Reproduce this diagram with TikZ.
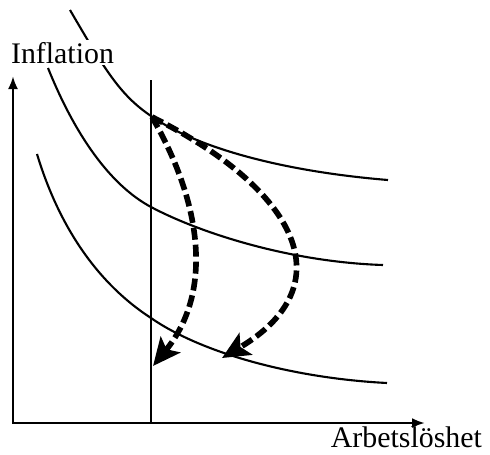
\documentclass[tikz,border=0pt]{standalone}
\usepackage{fontspec}
\setmainfont{Liberation Serif}
\usetikzlibrary{arrows.meta}
\tikzset{
  curve/.style={line width=1.2pt},
  axis/.style={line width=1.5pt,{Latex[length=0.26cm,width=0.2cm]}-{Latex[length=0.26cm,width=0.2cm]}},
  shiftarrow/.style={line width=3.2pt,dash pattern=on 0.24cm off 0.1cm,-{Stealth[length=0.55cm,width=0.5cm,inset=0.12cm]}},
  lbl/.style={font=\fontsize{17}{20}\selectfont,inner sep=1pt}
}
\begin{document}
\begin{tikzpicture}[x=0.02cm,y=-0.02cm]
    \useasboundingbox (0,0) rectangle (490,454);
    % axes
    \coordinate (O) at (13,423);
    \coordinate (ytop) at (13,76);
    \coordinate (xend) at (425,423);
    \draw[axis] (ytop) -- (O) -- (xend);
    % natural rate of unemployment
    \coordinate (ntop) at (151,80);
    \coordinate (nbot) at (151,424);
    \draw[line width=1.3pt] (ntop) -- (nbot);
    % short-run Phillips curves
    \draw[curve] (70,10) .. controls (105,70) and (120,95) .. (151,116)
        .. controls (200,150) and (290,172) .. (388,180);
    \draw[curve] (48,68) .. controls (75,135) and (110,185) .. (151,207)
        .. controls (200,233) and (290,262) .. (383,265);
    \draw[curve] (37,154) .. controls (60,230) and (100,285) .. (151,318)
        .. controls (200,352) and (290,378) .. (387,383);
    % labels
    \node[lbl,fill=white,anchor=base west] (ylabel) at (9,63) {Inflation};
    \node[lbl,anchor=base east] (xlabel) at (484,447) {Arbetslöshet};
    % shifts
    \coordinate (P) at (152,117);
    \coordinate (A) at (153,366);
    \coordinate (B) at (222,358);
    \draw[shiftarrow] (P) .. controls (200,200) and (215,290) .. (A);
    \draw[shiftarrow] (P) .. controls (298,190) and (345,285) .. (B);
\end{tikzpicture}
\end{document}
